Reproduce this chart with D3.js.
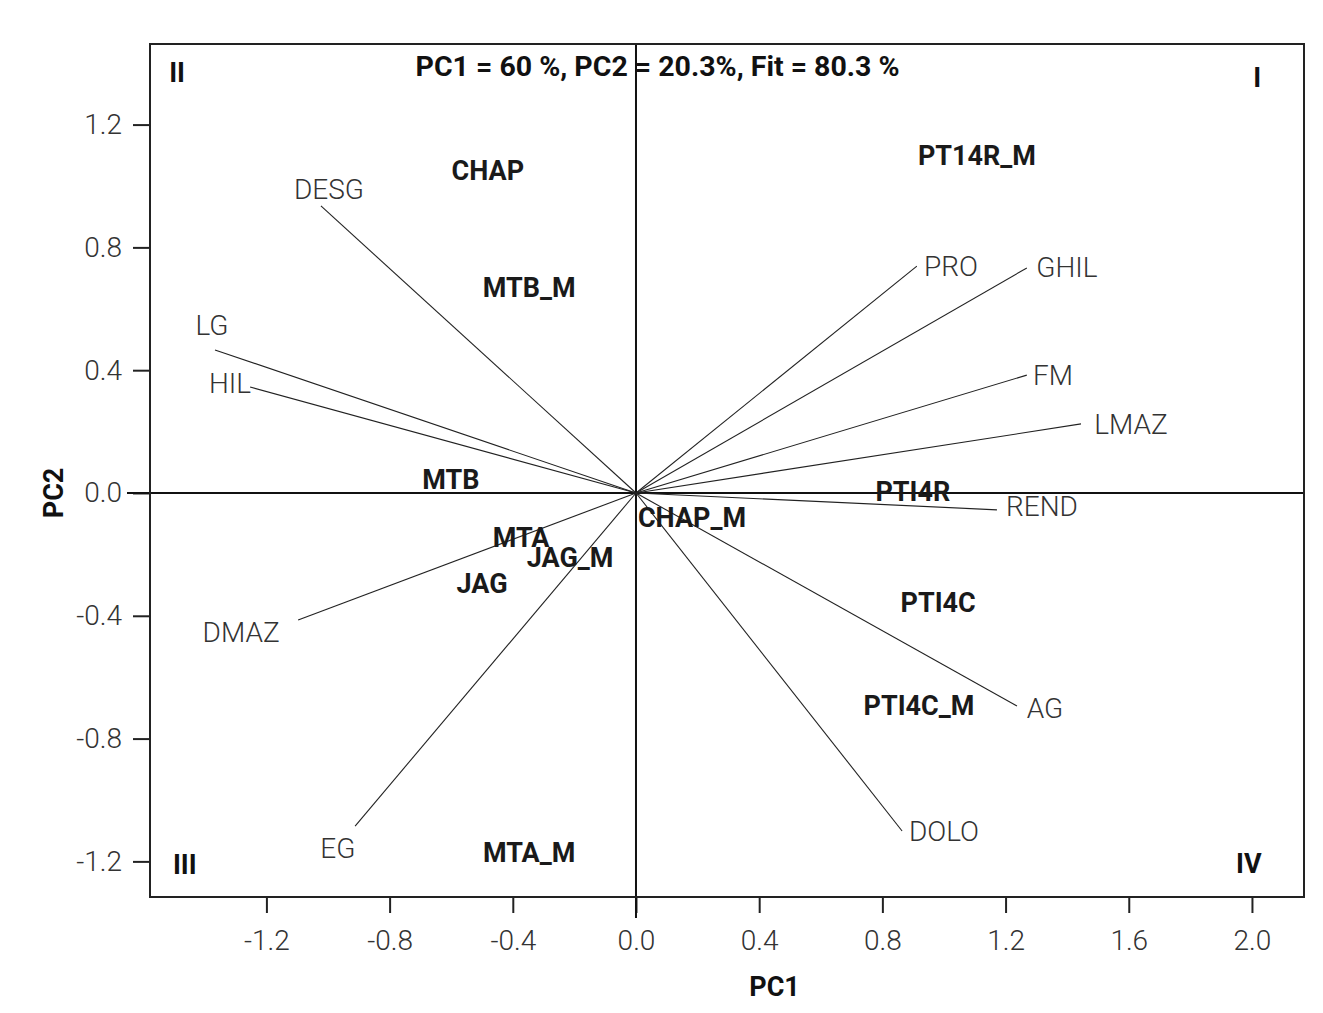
<!DOCTYPE html>
<html>
<head>
<meta charset="utf-8">
<script src="https://cdn.jsdelivr.net/npm/d3@7"></script>
<style>
  body { margin: 0; background: #fff; }
  text { font-family: Roboto, "Noto Sans", sans-serif; }
</style>
</head>
<body>
<div id="chart"></div>
<script>
// variable vectors (end points) and where their labels sit
const varNames = ['DESG', 'LG', 'HIL', 'DMAZ', 'EG', 'PRO', 'GHIL', 'FM', 'LMAZ', 'REND', 'AG', 'DOLO'];
const varPC1 = [-1.023, -1.367, -1.253, -1.097, -0.912, 0.912, 1.269, 1.269, 1.445, 1.172, 1.237, 0.864];
const varPC2 = [0.935, 0.466, 0.345, -0.414, -1.085, 0.739, 0.733, 0.384, 0.225, -0.055, -0.694, -1.101];
const varLabPC1 = [-0.997, -1.377, -1.318, -1.282, -0.968, 1.023, 1.399, 1.354, 1.607, 1.318, 1.328, 1.0];
const varLabPC2 = [0.990, 0.547, 0.358, -0.453, -1.156, 0.739, 0.736, 0.384, 0.225, -0.042, -0.700, -1.101];

// genotype scores
const genNames = ['CHAP', 'MTB_M', 'MTB', 'MTA', 'JAG_M', 'JAG', 'MTA_M', 'PT14R_M', 'PTI4R', 'CHAP_M', 'PTI4C', 'PTI4C_M'];
const genPC1 = [-0.481, -0.347, -0.601, -0.373, -0.214, -0.500, -0.347, 1.107, 0.899, 0.182, 0.981, 0.919];
const genPC2 = [1.052, 0.671, 0.046, -0.143, -0.208, -0.293, -1.169, 1.101, 0.006, -0.078, -0.355, -0.691];

const xTicks = [-1.2, -0.8, -0.4, 0.0, 0.4, 0.8, 1.2, 1.6, 2.0];
const yTicks = [-1.2, -0.8, -0.4, 0.0, 0.4, 0.8, 1.2];
const xDomain = [-1.578, 2.169];
const yDomain = [-1.316, 1.4625];

const quadrants = [
  {name: 'II', px: -1.49, py: 1.37},
  {name: 'I', px: 2.017, py: 1.355},
  {name: 'III', px: -1.465, py: -1.21},
  {name: 'IV', px: 1.99, py: -1.205}
];
const title = 'PC1 = 60 %, PC2 = 20.3%, Fit = 80.3 %';

const width = 1323, height = 1013;
const margin = {top: 44, right: 19, bottom: 116, left: 150};
const innerW = width - margin.left - margin.right;
const innerH = height - margin.top - margin.bottom;

const svg = d3.select('#chart').append('svg')
    .attr('width', width)
    .attr('height', height);

const chart = svg.append('g')
    .attr('transform', `translate(${margin.left},${margin.top})`);

const x = d3.scaleLinear().domain(xDomain).range([0, innerW]);
const y = d3.scaleLinear().domain(yDomain).range([innerH, 0]);

// axes
const xAxis = d3.axisBottom(x).tickValues(xTicks).tickSize(16).tickPadding(17);
const yAxis = d3.axisLeft(y).tickValues(yTicks).tickSize(17).tickPadding(11);

const xAxisG = chart.append('g')
    .attr('transform', `translate(0,${innerH})`)
    .call(xAxis);
const yAxisG = chart.append('g').call(yAxis);

[xAxisG, yAxisG].forEach(g => {
  g.select('.domain').remove();
  g.selectAll('line').attr('stroke', '#222').attr('stroke-width', 2);
  g.selectAll('text')
      .attr('fill', '#333')
      .style('font-size', '28px')
      .style('font-weight', 300)
      .text(d => d3.format('.1f')(d).replace('−', '-'));
});

// zero lines (run a bit past the frame, like long ticks)
chart.append('line')
    .attr('x1', x(0)).attr('x2', x(0))
    .attr('y1', 0).attr('y2', innerH + 21)
    .attr('stroke', '#111').attr('stroke-width', 2);
chart.append('line')
    .attr('x1', -23).attr('x2', innerW)
    .attr('y1', y(0)).attr('y2', y(0))
    .attr('stroke', '#111').attr('stroke-width', 2);

// frame
chart.append('rect')
    .attr('width', innerW).attr('height', innerH)
    .attr('fill', 'none')
    .attr('stroke', '#222')
    .attr('stroke-width', 2);

// variable vectors
const vars = varNames.map((n, i) => ({name: n, pc1: varPC1[i], pc2: varPC2[i], lx: varLabPC1[i], ly: varLabPC2[i]}));

chart.selectAll('.vec')
    .data(vars)
  .join('line')
    .attr('class', 'vec')
    .attr('x1', x(0)).attr('y1', y(0))
    .attr('x2', d => x(d.pc1)).attr('y2', d => y(d.pc2))
    .attr('stroke', '#222')
    .attr('stroke-width', 1.1);

chart.selectAll('.vec-label')
    .data(vars)
  .join('text')
    .attr('class', 'vec-label')
    .attr('x', d => x(d.lx))
    .attr('y', d => y(d.ly))
    .attr('dy', '0.36em')
    .attr('text-anchor', 'middle')
    .attr('fill', '#333')
    .style('font-size', '28px')
    .style('font-weight', 300)
    .text(d => d.name);

// genotype labels
const gens = genNames.map((n, i) => ({name: n, pc1: genPC1[i], pc2: genPC2[i]}));

chart.selectAll('.gen-label')
    .data(gens)
  .join('text')
    .attr('class', 'gen-label')
    .attr('x', d => x(d.pc1))
    .attr('y', d => y(d.pc2))
    .attr('dy', '0.36em')
    .attr('text-anchor', 'middle')
    .attr('fill', '#1a1a1a')
    .style('font-size', '27px')
    .style('font-weight', 700)
    .text(d => d.name);

// quadrant numbers
chart.selectAll('.quad')
    .data(quadrants)
  .join('text')
    .attr('class', 'quad')
    .attr('x', d => x(d.px))
    .attr('y', d => y(d.py))
    .attr('dy', '0.36em')
    .attr('text-anchor', 'middle')
    .attr('fill', '#111')
    .style('font-size', '27px')
    .style('font-weight', 700)
    .text(d => d.name);

// title
chart.append('text')
    .attr('x', x(0.07))
    .attr('y', 22)
    .attr('dy', '0.36em')
    .attr('text-anchor', 'middle')
    .attr('fill', '#111')
    .style('font-size', '28.5px')
    .style('font-weight', 700)
    .text(title);

// axis titles
svg.append('text')
    .attr('x', margin.left + x(0.45))
    .attr('y', 986)
    .attr('dy', '0.36em')
    .attr('text-anchor', 'middle')
    .attr('fill', '#111')
    .style('font-size', '27px')
    .style('font-weight', 700)
    .text('PC1');

svg.append('text')
    .attr('transform', `translate(53,${margin.top + y(0)}) rotate(-90)`)
    .attr('dy', '0.36em')
    .attr('text-anchor', 'middle')
    .attr('fill', '#111')
    .style('font-size', '27px')
    .style('font-weight', 700)
    .text('PC2');
</script>
</body>
</html>
